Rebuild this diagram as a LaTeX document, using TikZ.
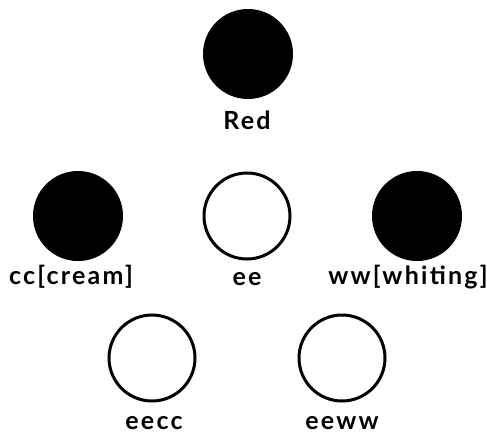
\documentclass[tikz,border=0pt]{standalone}
\usepackage{fontspec}
\setmainfont{Lato}
\newfontfamily\lblfont[LetterSpace=9]{Lato}
\begin{document}
\begin{tikzpicture}[x=1pt,y=-1pt,
  dark/.style={circle,fill=black,draw=black,line width=1pt,minimum size=89pt,inner sep=0pt},
  light/.style={circle,fill=white,draw=black,line width=3pt,minimum size=86pt,inner sep=0pt},
  lbl/.style={font=\lblfont\bfseries\fontsize{25}{29}\selectfont,inner sep=0pt}]
\useasboundingbox (0,0) rectangle (487,442);
\node[dark] (red) at (248,54) {};
\node[lbl] (tred) at (247,120) {Red};
\node[dark] (cc) at (78,216) {};
\node[lbl] (tcc) at (71,277) {cc[cream]};
\node[light] (ee) at (247,216) {};
\node[lbl] (tee) at (247,279) {ee};
\node[dark] (ww) at (417,216) {};
\node[lbl] (tww) at (408,277) {ww[whiting]};
\node[light] (eecc) at (152,358) {};
\node[lbl] (teecc) at (154,423) {eecc};
\node[light] (eeww) at (342,358) {};
\node[lbl] (teeww) at (342,423) {eeww};
\end{tikzpicture}
\end{document}
